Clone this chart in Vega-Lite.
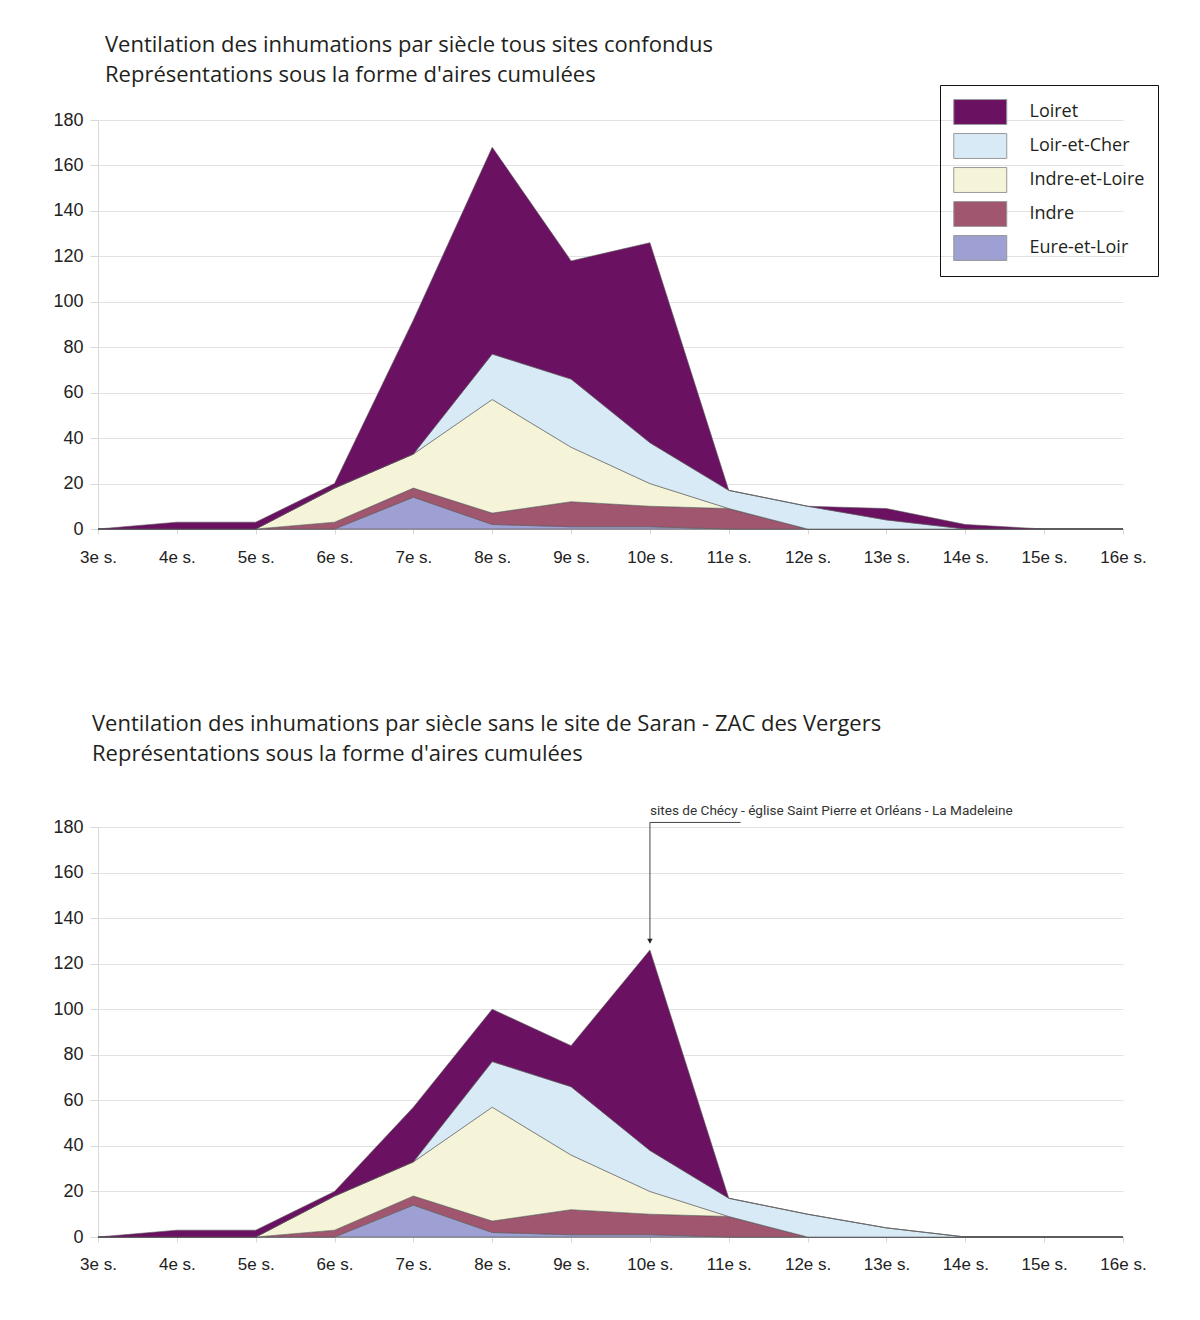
{
  "$schema": "https://vega.github.io/schema/vega-lite/v6.json",
  "background": "white",
  "padding": {"left": 52, "top": 34, "right": 5, "bottom": 5},
  "spacing": 148,
  "config": {
    "view": {"stroke": null},
    "title": {"font": "Open Sans", "fontSize": 22, "fontWeight": "normal", "color": "#231f20", "anchor": "start", "frame": "group", "lineHeight": 30},
    "axis": {"labelFont": "Liberation Sans", "labelColor": "#222222", "title": null, "gridColor": "#e2e2e2", "tickColor": "#d8d8d8", "domainColor": "#d8d8d8"}
  },
  "datasets": {
    "tous": [
      {"s": 3, "Eure-et-Loir": 0, "Indre": 0, "Indre-et-Loire": 0, "Loir-et-Cher": 0, "Loiret": 0},
      {"s": 4, "Eure-et-Loir": 0, "Indre": 0, "Indre-et-Loire": 0, "Loir-et-Cher": 0, "Loiret": 3},
      {"s": 5, "Eure-et-Loir": 0, "Indre": 0, "Indre-et-Loire": 0, "Loir-et-Cher": 0, "Loiret": 3},
      {"s": 6, "Eure-et-Loir": 0, "Indre": 3, "Indre-et-Loire": 15, "Loir-et-Cher": 0, "Loiret": 2},
      {"s": 7, "Eure-et-Loir": 14, "Indre": 4, "Indre-et-Loire": 15, "Loir-et-Cher": 0, "Loiret": 59},
      {"s": 8, "Eure-et-Loir": 2, "Indre": 5, "Indre-et-Loire": 50, "Loir-et-Cher": 20, "Loiret": 91},
      {"s": 9, "Eure-et-Loir": 1, "Indre": 11, "Indre-et-Loire": 24, "Loir-et-Cher": 30, "Loiret": 52},
      {"s": 10, "Eure-et-Loir": 1, "Indre": 9, "Indre-et-Loire": 10, "Loir-et-Cher": 18, "Loiret": 88},
      {"s": 11, "Eure-et-Loir": 0, "Indre": 9, "Indre-et-Loire": 0, "Loir-et-Cher": 8, "Loiret": 0},
      {"s": 12, "Eure-et-Loir": 0, "Indre": 0, "Indre-et-Loire": 0, "Loir-et-Cher": 10, "Loiret": 0},
      {"s": 13, "Eure-et-Loir": 0, "Indre": 0, "Indre-et-Loire": 0, "Loir-et-Cher": 4, "Loiret": 5},
      {"s": 14, "Eure-et-Loir": 0, "Indre": 0, "Indre-et-Loire": 0, "Loir-et-Cher": 0, "Loiret": 2},
      {"s": 15, "Eure-et-Loir": 0, "Indre": 0, "Indre-et-Loire": 0, "Loir-et-Cher": 0, "Loiret": 0},
      {"s": 16, "Eure-et-Loir": 0, "Indre": 0, "Indre-et-Loire": 0, "Loir-et-Cher": 0, "Loiret": 0}
    ],
    "sans": [
      {"s": 3, "Eure-et-Loir": 0, "Indre": 0, "Indre-et-Loire": 0, "Loir-et-Cher": 0, "Loiret": 0},
      {"s": 4, "Eure-et-Loir": 0, "Indre": 0, "Indre-et-Loire": 0, "Loir-et-Cher": 0, "Loiret": 3},
      {"s": 5, "Eure-et-Loir": 0, "Indre": 0, "Indre-et-Loire": 0, "Loir-et-Cher": 0, "Loiret": 3},
      {"s": 6, "Eure-et-Loir": 0, "Indre": 3, "Indre-et-Loire": 15, "Loir-et-Cher": 0, "Loiret": 2},
      {"s": 7, "Eure-et-Loir": 14, "Indre": 4, "Indre-et-Loire": 15, "Loir-et-Cher": 0, "Loiret": 24},
      {"s": 8, "Eure-et-Loir": 2, "Indre": 5, "Indre-et-Loire": 50, "Loir-et-Cher": 20, "Loiret": 23},
      {"s": 9, "Eure-et-Loir": 1, "Indre": 11, "Indre-et-Loire": 24, "Loir-et-Cher": 30, "Loiret": 18},
      {"s": 10, "Eure-et-Loir": 1, "Indre": 9, "Indre-et-Loire": 10, "Loir-et-Cher": 18, "Loiret": 88},
      {"s": 11, "Eure-et-Loir": 0, "Indre": 9, "Indre-et-Loire": 0, "Loir-et-Cher": 8, "Loiret": 0},
      {"s": 12, "Eure-et-Loir": 0, "Indre": 0, "Indre-et-Loire": 0, "Loir-et-Cher": 10, "Loiret": 0},
      {"s": 13, "Eure-et-Loir": 0, "Indre": 0, "Indre-et-Loire": 0, "Loir-et-Cher": 4, "Loiret": 0},
      {"s": 14, "Eure-et-Loir": 0, "Indre": 0, "Indre-et-Loire": 0, "Loir-et-Cher": 0, "Loiret": 0},
      {"s": 15, "Eure-et-Loir": 0, "Indre": 0, "Indre-et-Loire": 0, "Loir-et-Cher": 0, "Loiret": 0},
      {"s": 16, "Eure-et-Loir": 0, "Indre": 0, "Indre-et-Loire": 0, "Loir-et-Cher": 0, "Loiret": 0}
    ],
    "note": [{"s": 10, "y": 187, "texte": "sites de Chécy - église Saint Pierre et Orléans - La Madeleine"}],
    "souligne": [{"s": 10, "s2": 11.15, "y": 182}],
    "fleche": [{"s": 10, "y": 182, "yfin": 129}]
  },
  "vconcat": [
    {
      "title": {"text": ["Ventilation des inhumations par siècle tous sites confondus", "Représentations sous la forme d'aires cumulées"], "dx": 7, "offset": 24},
      "width": 1025,
      "height": 409,
      "data": {"name": "tous"},
      "transform": [{"fold": ["Eure-et-Loir", "Indre", "Indre-et-Loire", "Loir-et-Cher", "Loiret"], "as": ["departement", "n"]}],
      "mark": {"type": "area", "stroke": "#5a5a5a", "strokeWidth": 0.6},
      "encoding": {
        "x": {"field": "s", "type": "quantitative", "scale": {"domain": [3, 16], "nice": false, "zero": false},
              "axis": {"values": [3, 4, 5, 6, 7, 8, 9, 10, 11, 12, 13, 14, 15, 16], "labelExpr": "datum.value + 'e s.'", "grid": false, "tickSize": 5, "labelPadding": 15, "labelFontSize": 17, "domainColor": "#aaaaaa", "labelFlush": false}},
        "y": {"field": "n", "type": "quantitative", "stack": "zero", "scale": {"domain": [0, 180], "nice": false},
              "axis": {"values": [0, 20, 40, 60, 80, 100, 120, 140, 160, 180], "tickSize": 8, "labelPadding": 7, "labelFontSize": 18}},
        "color": {"field": "departement", "type": "nominal",
                  "scale": {"domain": ["Loiret", "Loir-et-Cher", "Indre-et-Loire", "Indre", "Eure-et-Loir"], "range": ["#6a1162", "#d8eaf6", "#f5f3d8", "#a0566e", "#9e9fd3"]},
                  "legend": {"title": null, "orient": "none", "legendX": 842, "legendY": -35, "strokeColor": "#111111", "padding": 13,
                             "symbolType": "M-1,-0.94H3V0.94H-1Z", "symbolSize": 702.25, "symbolStrokeColor": "#999999", "symbolStrokeWidth": 1, "symbolOpacity": 1,
                             "labelFont": "Open Sans", "labelFontSize": 18, "labelColor": "#231f20", "labelOffset": 48.5, "rowPadding": 4}},
        "order": {"field": "departement", "sort": "ascending"}
      }
    },
    {
      "title": {"text": ["Ventilation des inhumations par siècle sans le site de Saran - ZAC des Vergers", "Représentations sous la forme d'aires cumulées"], "dx": -6, "offset": 38},
      "width": 1025,
      "height": 410,
      "layer": [
        {
          "data": {"name": "sans"},
          "transform": [{"fold": ["Eure-et-Loir", "Indre", "Indre-et-Loire", "Loir-et-Cher", "Loiret"], "as": ["departement", "n"]}],
          "mark": {"type": "area", "stroke": "#5a5a5a", "strokeWidth": 0.6},
          "encoding": {
            "x": {"field": "s", "type": "quantitative", "scale": {"domain": [3, 16], "nice": false, "zero": false},
                  "axis": {"values": [3, 4, 5, 6, 7, 8, 9, 10, 11, 12, 13, 14, 15, 16], "labelExpr": "datum.value + 'e s.'", "grid": false, "tickSize": 5, "labelPadding": 14, "labelFontSize": 17, "domainColor": "#aaaaaa", "labelFlush": false}},
            "y": {"field": "n", "type": "quantitative", "stack": "zero", "scale": {"domain": [0, 180], "nice": false},
                  "axis": {"values": [0, 20, 40, 60, 80, 100, 120, 140, 160, 180], "tickSize": 8, "labelPadding": 7, "labelFontSize": 18}},
            "color": {"field": "departement", "type": "nominal",
                      "scale": {"domain": ["Loiret", "Loir-et-Cher", "Indre-et-Loire", "Indre", "Eure-et-Loir"], "range": ["#6a1162", "#d8eaf6", "#f5f3d8", "#a0566e", "#9e9fd3"]},
                      "legend": null},
            "order": {"field": "departement", "sort": "ascending"}
          }
        },
        {
          "data": {"name": "souligne"},
          "mark": {"type": "rule", "color": "#444444", "strokeWidth": 1},
          "encoding": {"x": {"field": "s", "type": "quantitative"}, "x2": {"field": "s2"}, "y": {"field": "y", "type": "quantitative"}}
        },
        {
          "data": {"name": "fleche"},
          "mark": {"type": "rule", "color": "#444444", "strokeWidth": 1},
          "encoding": {"x": {"field": "s", "type": "quantitative"}, "y": {"field": "y", "type": "quantitative"}, "y2": {"field": "yfin"}}
        },
        {
          "data": {"name": "fleche"},
          "mark": {"type": "point", "shape": "triangle-down", "filled": true, "color": "#222222", "size": 30, "opacity": 1, "yOffset": -2},
          "encoding": {"x": {"field": "s", "type": "quantitative"}, "y": {"field": "yfin", "type": "quantitative"}}
        },
        {
          "data": {"name": "note"},
          "mark": {"type": "text", "align": "left", "baseline": "middle", "font": "Roboto", "fontSize": 13.6, "color": "#333333", "dx": 0},
          "encoding": {"x": {"field": "s", "type": "quantitative"}, "y": {"field": "y", "type": "quantitative"}, "text": {"field": "texte"}}
        }
      ]
    }
  ]
}
